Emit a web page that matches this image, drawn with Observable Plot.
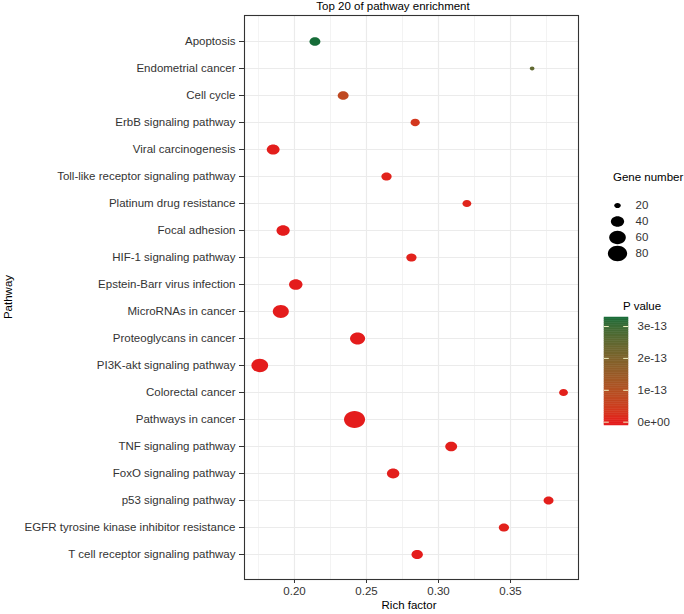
<!DOCTYPE html>
<html>
<head>
<meta charset="utf-8">
<script src="https://cdn.jsdelivr.net/npm/d3@7"></script>
<script src="https://cdn.jsdelivr.net/npm/@observablehq/plot@0.6"></script>
<style>
  html, body { margin: 0; padding: 0; background: white; }
  #wrap { position: relative; width: 684px; height: 614px; font-family: "Liberation Sans", Arial, sans-serif; color: #000; }
  .abs { position: absolute; white-space: nowrap; font-size: 11.5px; line-height: 13px; }
  svg { display: block; }
</style>
</head>
<body>
<div id="wrap"></div>
<script>
const pathways = ["Apoptosis","Endometrial cancer","Cell cycle","ErbB signaling pathway","Viral carcinogenesis","Toll-like receptor signaling pathway","Platinum drug resistance","Focal adhesion","HIF-1 signaling pathway","Epstein-Barr virus infection","MicroRNAs in cancer","Proteoglycans in cancer","PI3K-akt signaling pathway","Colorectal cancer","Pathways in cancer","TNF signaling pathway","FoxO signaling pathway","p53 signaling pathway","EGFR tyrosine kinase inhibitor resistance","T cell receptor signaling pathway"];
const richFactor = [0.2142,0.3650,0.2338,0.2838,0.1852,0.2639,0.3197,0.1921,0.2812,0.2009,0.1905,0.2438,0.1759,0.3868,0.2417,0.3088,0.2685,0.3764,0.3454,0.2852];
const geneNumber = [30,19,30,25,38,28,24,40,28,41,56,50,61,24,96,34,36,27,28,32];
const pValue = [3.28e-13,2.5e-13,7.5e-14,3.5e-14,2e-15,6e-15,8e-15,1e-16,5e-15,2e-16,1e-18,1e-17,1e-19,4e-15,1e-22,3e-15,2e-15,3e-15,4e-15,1e-15];
const xTicks = [0.20,0.25,0.30,0.35];
const xMinorTicks = [0.175,0.225,0.275,0.325,0.375];
const geneBreaks = [20,40,60,80];
const pBreaks = [0,1e-13,2e-13,3e-13];

const data = pathways.map((p,i) => ({pathway:p, rich:richFactor[i], genes:geneNumber[i], p:pValue[i]}));

const geneMin = 19, geneMax = 96;
const pMax = 3.282e-13, barMin = -1.04e-14;
const rScale = {type:"pow", exponent:0.5, domain:[0, geneMax-geneMin], range:[2.1, 9.4]};
const colorScale = {type:"linear", domain:[0, pMax], range:["#e41c1c", "#166c38"], interpolate:"lab", clamp:true};

// ellipse symbol (points in the reference are slightly wider than tall)
const ellipse = {
  draw(ctx, size) {
    const r = Math.sqrt(size/Math.PI), a = r*1.118, b = r*0.894, k = 0.5523;
    ctx.moveTo(a,0);
    ctx.bezierCurveTo(a, b*k, a*k, b, 0, b);
    ctx.bezierCurveTo(-a*k, b, -a, b*k, -a, 0);
    ctx.bezierCurveTo(-a, -b*k, -a*k, -b, 0, -b);
    ctx.bezierCurveTo(a*k, -b, a, -b*k, a, 0);
    ctx.closePath();
  }
};

const font = {fontFamily:'"Liberation Sans", Arial, sans-serif', fontSize:"11.5px", background:"white", overflow:"visible"};

const main = Plot.plot({
  width:684, height:614,
  marginLeft:244, marginRight:106, marginTop:15, marginBottom:35,
  style:{...font, color:"#333"},
  x:{domain:[0.1653,0.3972]},
  y:{type:"point", domain:pathways, padding:0.6},
  r:rScale,
  color:colorScale,
  marks:[
    Plot.ruleX(xMinorTicks, {stroke:"#ebebeb", strokeWidth:0.6}),
    Plot.ruleX(xTicks, {stroke:"#ebebeb", strokeWidth:1.2}),
    Plot.ruleY(pathways, {y:d=>d, stroke:"#ebebeb", strokeWidth:1.2}),
    Plot.dot(data, {x:"rich", y:"pathway", r:d=>d.genes-geneMin, fill:"p", symbol:ellipse, stroke:"none"}),
    Plot.frame({stroke:"#333", strokeWidth:1.1}),
    Plot.axisX({ticks:xTicks, tickFormat:d=>d.toFixed(2), tickSize:4, tickPadding:3, label:null, stroke:"#333", fill:"#333"}),
    Plot.axisY({tickSize:5, tickPadding:4, label:null, stroke:"#333", fill:"#333"})
  ]
});

// size legend
const sizeLegend = Plot.plot({
  width:84, height:90, margin:0,
  style:{...font, color:"#000", background:"transparent"},
  x:{domain:[0,1], range:[17,67], axis:null},
  y:{type:"point", domain:geneBreaks, range:[12,76], axis:null},
  r:rScale,
  marks:[
    Plot.dot(geneBreaks, {x:0, y:d=>d, r:d=>d-geneMin, fill:"black", symbol:ellipse}),
    Plot.text(geneBreaks, {x:0, y:d=>d, text:d=>String(d), dx:18, textAnchor:"start", fill:"#333"})
  ]
});

// colour bar legend
const nb = 60;
const bins = d3.range(nb).map(i => ({y1: barMin + i*(pMax-barMin)/nb, y2: barMin + (i+1)*(pMax-barMin)/nb}));
const fmt = d => d === 0 ? "0e+00" : d.toExponential(0);
const colorLegend = Plot.plot({
  width:84, height:130, margin:0,
  style:{...font, color:"#000", background:"transparent"},
  x:{domain:[0,1], range:[4,28], axis:null},
  y:{domain:[barMin, pMax], range:[125,17], axis:null},
  color:colorScale,
  marks:[
    Plot.rect(bins, {x1:0, x2:1, y1:"y1", y2:"y2", fill:d=>(d.y1+d.y2)/2, stroke:d=>(d.y1+d.y2)/2, strokeWidth:0.5}),
    Plot.ruleY(pBreaks, {x1:0, x2:0.2, stroke:"#f0f0c0", strokeWidth:1}),
    Plot.ruleY(pBreaks, {x1:0.8, x2:1, stroke:"#f0f0c0", strokeWidth:1}),
    Plot.text(pBreaks, {x:1, y:d=>d, text:fmt, dx:9, textAnchor:"start", fill:"#333"})
  ]
});

const wrap = document.getElementById("wrap");
wrap.appendChild(main);
function place(el, left, top) { el.style.position = "absolute"; el.style.left = left+"px"; el.style.top = top+"px"; wrap.appendChild(el); }
place(sizeLegend, 600, 185);
place(colorLegend, 600, 300);

function label(text, css) {
  const d = document.createElement("div");
  d.className = "abs";
  d.textContent = text;
  Object.assign(d.style, css);
  wrap.appendChild(d);
  return d;
}
label("Top 20 of pathway enrichment", {left:"0px", width:"786px", textAlign:"center", top:"0px"});
label("Rich factor", {left:"0px", width:"818px", textAlign:"center", top:"599px"});
label("Gene number", {left:"613px", top:"171px"});
label("P value", {left:"623px", top:"300px"});
label("Pathway", {left:"8px", top:"297px", transform:"translate(-50%,-50%) rotate(-90deg)"});
</script>
</body>
</html>
